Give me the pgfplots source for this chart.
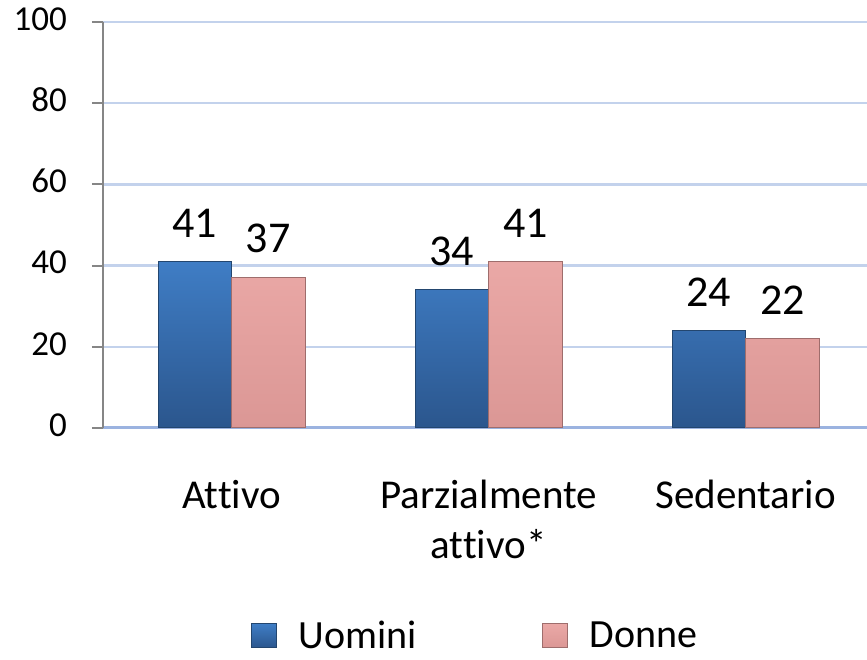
\documentclass[border=0pt]{standalone}
\usepackage{fontspec}
\setmainfont{Carlito}[Ligatures=NoCommon]
\usepackage{pgfplots}
\pgfplotsset{compat=1.18}
\definecolor{gridblue}{HTML}{C3D2EC}
\definecolor{axisblue}{HTML}{9BB3E0}
\definecolor{blueTop}{HTML}{3F7DC5}
\definecolor{blueBot}{HTML}{2B568D}
\definecolor{blueEdge}{HTML}{23466F}
\definecolor{pinkTop}{HTML}{EAA8A6}
\definecolor{pinkBot}{HTML}{DB9795}
\definecolor{pinkEdge}{HTML}{9E6D6C}
\definecolor{axisgray}{HTML}{868686}
\begin{document}
\begin{tikzpicture}
\path[use as bounding box] (0,0) rectangle (867pt,660pt);
\begin{axis}[
  at={(103pt,232pt)}, anchor=south west,
  scale only axis, width=766pt, height=406pt,
  xmin=-0.5, xmax=2.48, ymin=0, ymax=100,
  ybar=0pt, bar width=0.286,
  axis y line*=left, axis x line*=bottom,
  y axis line style={draw=axisgray, line width=2pt, -},
  x axis line style={draw=axisblue, line width=3pt, -},
  ytick={0,20,40,60,80,100},
  xtick={0,1,2},
  xticklabels={Attivo,{Parzialmente\\attivo*},Sedentario},
  tick align=outside,
  major tick length=11pt,
  ytick style={draw=axisgray, line width=2pt},
  xtick style={draw=none},
  ymajorgrids,
  major grid style={draw=gridblue, line width=2.5pt},
  /pgf/number format/assume math mode=true,
  yticklabel style={font=\fontsize{35}{42}\selectfont, anchor=east, inner sep=0pt, xshift=-25pt},
  xticklabel style={font=\fontsize{41}{50}\selectfont, align=center, anchor=north, inner sep=0pt, yshift=-34pt},
  typeset ticklabels with strut,
  nodes near coords,
  nodes near coords style={font=\fontsize{44}{52}\selectfont, inner sep=0pt, anchor=south, yshift=24pt},
  legend columns=2,
  legend style={at={(axis description cs:0.486,-0.512)}, anchor=center, draw=none,
    font=\fontsize{40}{48}\selectfont, inner sep=0pt,
    nodes={inner sep=2pt},
    /tikz/every odd column/.append style={column sep=20pt},
    /tikz/every even column/.append style={column sep=123pt}},
  legend image code/.code={\path[#1] (0pt,-12pt) rectangle (25pt,12pt);},
]
\addplot[bar shift=-0.143, top color=blueTop, bottom color=blueBot, draw=blueEdge, line width=1pt]
  coordinates {(0,41) (1,34) (2,24)};
\addlegendentry{Uomini}
\addplot[bar shift=0.143, top color=pinkTop, bottom color=pinkBot, draw=pinkEdge, line width=1pt]
  coordinates {(0,37) (1,41) (2,22)};
\addlegendentry{Donne}
\end{axis}
\end{tikzpicture}
\end{document}
